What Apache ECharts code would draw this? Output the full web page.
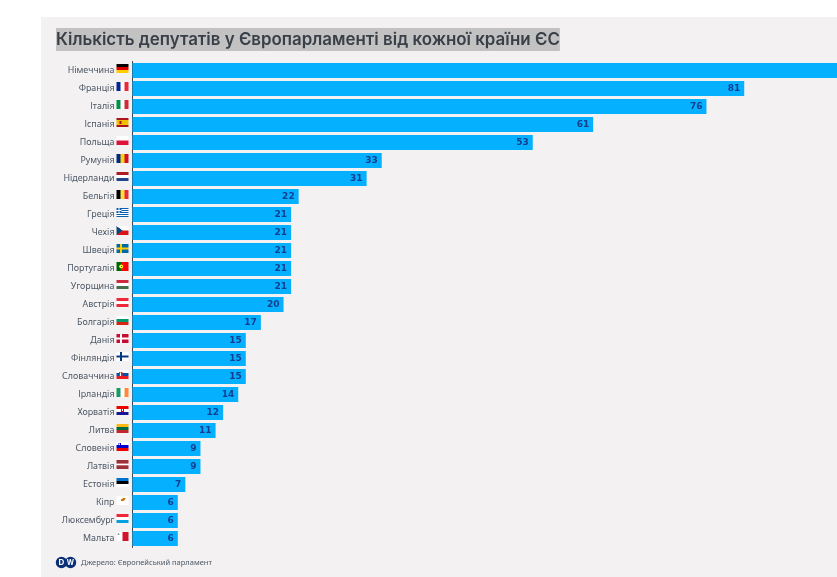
<!DOCTYPE html>
<html>
<head>
<meta charset="utf-8">
<style>
html,body{margin:0;padding:0;background:#fff;overflow:hidden}
#chart{width:837px;height:577px}
</style>
<script src="https://cdn.jsdelivr.net/npm/echarts@6/dist/echarts.min.js"></script>
</head>
<body>
<div id="chart"></div>
<script>
var countries=["Німеччина","Франція","Італія","Іспанія","Польща","Румунія","Нідерланди","Бельгія","Греція","Чехія","Швеція","Португалія","Угорщина","Австрія","Болгарія","Данія","Фінляндія","Словаччина","Ірландія","Хорватія","Литва","Словенія","Латвія","Естонія","Кіпр","Люксембург","Мальта"];
var seats=[96,81,76,61,53,33,31,22,21,21,21,21,21,20,17,15,15,15,14,12,11,9,9,7,6,6,6];
var flagCodes=["de","fr","it","es","pl","ro","nl","be","gr","cz","se","pt","hu","at","bg","dk","fi","sk","ie","hr","lt","si","lv","ee","cy","lu","mt"];
var titleText="Кількість депутатів у Європарламенті від кожної країни ЄС";
var sourceText="Джерело: Європейський парламент";

// h = horizontal stripes, v = vertical stripes
var flagStripes={
	de:{h:["#000","#d00","#ffce00"]},
	fr:{v:["#002395","#fff","#ed2939"]},
	it:{v:["#009246","#fff","#ce2b37"]},
	es:{h:["#aa151b","#f1bf00","#f1bf00","#aa151b"]},
	pl:{h:["#fff","#dc143c"]},
	ro:{v:["#002b7f","#fcd116","#ce1126"]},
	nl:{h:["#ae1c28","#fff","#21468b"]},
	be:{v:["#000","#fae042","#ed2939"]},
	pt:{v:["#006600","#006600","#ff0000","#ff0000","#ff0000"]},
	hu:{h:["#cd2a3e","#fff","#436f4d"]},
	at:{h:["#ed2939","#fff","#ed2939"]},
	bg:{h:["#fff","#00966e","#d62612"]},
	ie:{v:["#169b62","#fff","#ff883e"]},
	lt:{h:["#fdb913","#006a44","#c1272d"]},
	lv:{h:["#9e3039","#9e3039","#fff","#9e3039","#9e3039"]},
	ee:{h:["#0072ce","#000","#fff"]},
	lu:{h:["#ed2939","#fff","#00a1de"]},
	sk:{h:["#fff","#0b4ea2","#ee1c25"]},
	si:{h:["#fff","#0000cd","#e00"]},
	hr:{h:["#e00","#fff","#171796"]},
	mt:{v:["#fff","#cf142b"]},
	cy:{v:["#fff"]}
};
var flagCrosses={
	se:["#006aa7","#fecc00"],
	dk:["#c60c30","#fff"],
	fi:["#fff","#003580"]
};

// canvas is taller than the flag so the flag sits a bit above the text line
function makeFlag(code){
	var c=document.createElement("canvas");
	c.width=48;c.height=52;
	var g=c.getContext("2d");
	var s=flagStripes[code];
	if(s&&s.h){
		s.h.forEach(function(col,i){g.fillStyle=col;g.fillRect(0,i*36/s.h.length,48,36/s.h.length);});
	}else if(s&&s.v){
		s.v.forEach(function(col,i){g.fillStyle=col;g.fillRect(i*48/s.v.length,0,48/s.v.length,36);});
	}
	if(flagCrosses[code]){
		g.fillStyle=flagCrosses[code][0];g.fillRect(0,0,48,36);
		g.fillStyle=flagCrosses[code][1];g.fillRect(14,0,8,36);g.fillRect(0,14,48,8);
	}
	if(code=="gr"){
		for(var i=0;i<9;i++){g.fillStyle=i%2?"#fff":"#0d5eaf";g.fillRect(0,i*4,48,4);}
		g.fillStyle="#0d5eaf";g.fillRect(0,0,20,20);
		g.fillStyle="#fff";g.fillRect(8,0,4,20);g.fillRect(0,8,20,4);
	}
	if(code=="cz"){
		g.fillStyle="#fff";g.fillRect(0,0,48,18);
		g.fillStyle="#d7141a";g.fillRect(0,18,48,18);
		g.fillStyle="#11457e";g.beginPath();g.moveTo(0,0);g.lineTo(24,18);g.lineTo(0,36);g.fill();
	}
	if(code=="es"){g.fillStyle="#aa151b";g.fillRect(12,13,8,10);}
	if(code=="pt"){g.fillStyle="#ffe900";g.beginPath();g.arc(19,18,8,0,7);g.fill();g.fillStyle="#fff";g.fillRect(16,14,6,8);g.fillStyle="#d00";g.fillRect(17,15,4,6);}
	if(code=="sk"){g.fillStyle="#ee1c25";g.fillRect(10,8,14,20);g.fillStyle="#fff";g.fillRect(15,10,4,14);}
	if(code=="si"){g.fillStyle="#0000cd";g.fillRect(8,3,10,11);g.fillStyle="#fff";g.fillRect(11,6,4,5);}
	if(code=="hr"){g.fillStyle="#e00";g.fillRect(17,9,14,16);g.fillStyle="#fff";g.fillRect(21,12,6,8);}
	if(code=="mt"){g.fillStyle="#999";g.beginPath();g.arc(8,9,4,0,7);g.fill();}
	if(code=="cy"){g.fillStyle="#d57800";g.beginPath();g.ellipse(27,14,10,5,-0.4,0,7);g.fill();g.fillStyle="#4e7a3a";g.fillRect(18,23,12,2);}
	return c;
}

var richStyles={name:{color:"#4c5865",fontFamily:"Noto Sans",fontSize:8.9,padding:[0,2,0,0]}};
flagCodes.forEach(function(code){
	richStyles[code]={width:12,height:13,backgroundColor:{image:makeFlag(code)}};
});

var myChart=echarts.init(document.getElementById("chart"));
var option={
	animation:false,
	backgroundColor:"#fff",
	title:{
		text:titleText,
		left:56,
		top:28,
		padding:[3,0,2,0],
		backgroundColor:"#c2c2c2",
		textStyle:{
			color:"#3a4048",
			fontFamily:"Inter",
			fontWeight:600,
			fontSize:16.9,
			lineHeight:18
		}
	},
	grid:{left:132.5,top:61.5,width:725,height:486,outerBoundsMode:"none"},
	xAxis:{type:"value",min:0,max:96,show:false},
	yAxis:{
		type:"category",
		inverse:true,
		data:countries,
		axisTick:{show:false},
		axisLine:{lineStyle:{color:"#3f4550",width:1}},
		axisLabel:{
			margin:4,
			interval:0,
			formatter:function(val,i){
				return "{name|"+val+"}{"+flagCodes[i]+"|}";
			},
			rich:richStyles
		}
	},
	series:[{
		type:"bar",
		data:seats,
		barWidth:15,
		itemStyle:{color:"#05b0ff"},
		label:{
			show:true,
			position:"insideRight",
			distance:4,
			color:"#123f8f",
			fontFamily:"DejaVu Sans",
			fontWeight:"bold",
			fontSize:9
		}
	}],
	graphic:[
		{type:"rect",z:-10,shape:{x:41,y:17,width:796,height:560},style:{fill:"#f3f1f2"}},
		{type:"circle",shape:{cx:61.5,cy:562.5,r:5.7},style:{fill:"#0a2f7a"}},
		{type:"circle",shape:{cx:70.5,cy:562.5,r:5.7},style:{fill:"#0a2f7a"}},
		{type:"text",style:{x:61.5,y:562.5,text:"D",fill:"#fff",fontFamily:"Inter",fontWeight:700,fontSize:8,align:"center",verticalAlign:"middle"}},
		{type:"text",style:{x:70.5,y:562.5,text:"W",fill:"#fff",fontFamily:"Inter",fontWeight:700,fontSize:7,align:"center",verticalAlign:"middle"}},
		{type:"text",style:{x:81,y:562.5,text:sourceText,fill:"#4c5865",fontFamily:"Noto Sans",fontSize:7.5,verticalAlign:"middle"}}
	]
};
myChart.setOption(option);
</script>
</body>
</html>
